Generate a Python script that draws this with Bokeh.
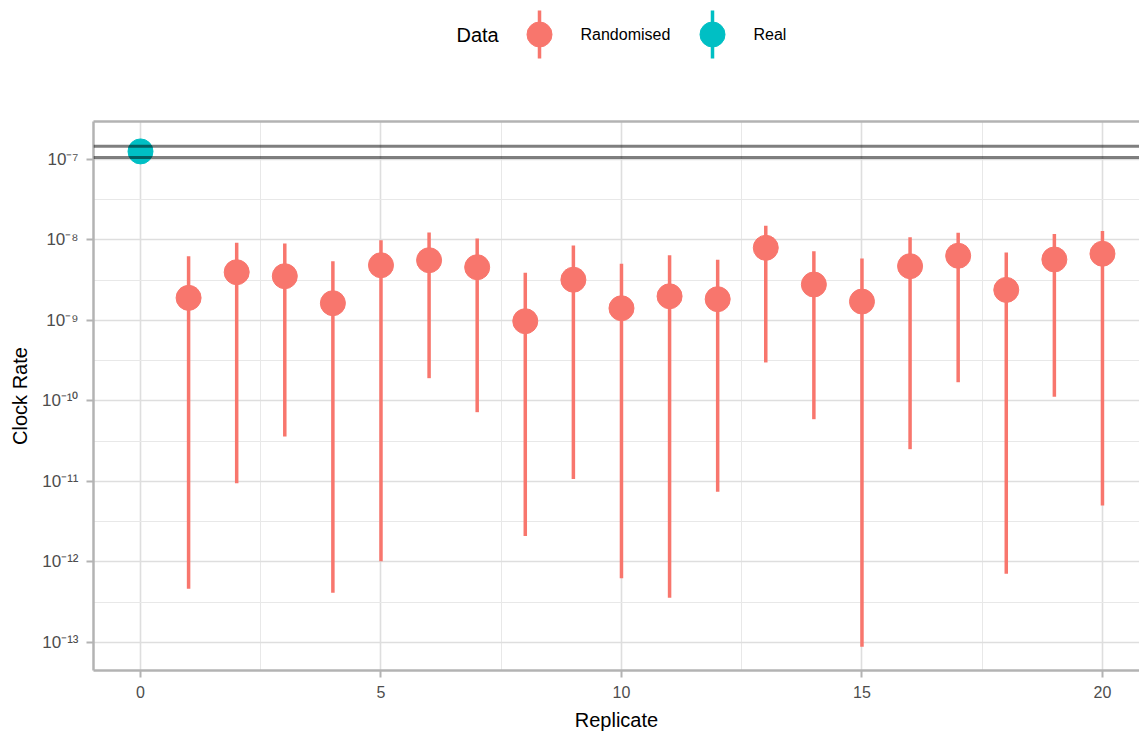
from bokeh.plotting import figure
from bokeh.models import Range1d, FixedTicker, CustomJSTickFormatter, Span, LinearAxis
from bokeh.layouts import column
from bokeh.embed import file_html
from bokeh.resources import INLINE
from bokeh.core.properties import value

# ---------------- data ----------------
replicate = [1, 2, 3, 4, 5, 6, 7, 8, 9, 10, 11, 12, 13, 14, 15, 16, 17, 18, 19, 20]
rand_rate = [1.91e-9, 3.98e-9, 3.55e-9, 1.64e-9, 4.86e-9, 5.61e-9, 4.59e-9, 9.8e-10, 3.21e-9, 1.42e-9,
             2.00e-9, 1.84e-9, 8.0e-9, 2.80e-9, 1.72e-9, 4.73e-9, 6.37e-9, 2.40e-9, 5.73e-9, 6.75e-9]
rand_upper = [6.29e-9, 9.23e-9, 9.05e-9, 5.46e-9, 9.95e-9, 1.24e-8, 1.04e-8, 3.92e-9, 8.55e-9, 5.06e-9,
              6.47e-9, 5.68e-9, 1.50e-8, 7.26e-9, 5.89e-9, 1.08e-8, 1.23e-8, 7.00e-9, 1.19e-8, 1.29e-8]
rand_lower = [4.65e-13, 9.5e-12, 3.62e-11, 4.14e-13, 1.02e-12, 1.92e-10, 7.26e-11, 2.11e-12, 1.07e-11, 6.29e-13,
              3.59e-13, 7.45e-12, 3.01e-10, 5.94e-11, 8.85e-14, 2.52e-11, 1.71e-10, 7.13e-13, 1.13e-10, 5.04e-12]
real_replicate = [0]
real_rate = [1.26e-7]
real_interval = [1.06e-7, 1.46e-7]
x_ticks = [0, 5, 10, 15, 20]
x_minor = [2.5, 7.5, 12.5, 17.5]
y_ticks = [1e-13, 1e-12, 1e-11, 1e-10, 1e-9, 1e-8, 1e-7]
y_minor = [10 ** -12.5, 10 ** -11.5, 10 ** -10.5, 10 ** -9.5, 10 ** -8.5, 10 ** -7.5, 10 ** -6.5]
legend_title = "Data"
legend_labels = ["Randomised", "Real"]
colors = ["#F8766D", "#00BFC4"]

FONT = "Liberation Sans"
W = 1139
LEFT = 93
LEG_H = 70
BORDER = "#B3B3B3"

# ---------------- main plot ----------------
p = figure(width=W, height=734 - LEG_H,
           x_range=Range1d(-0.977, 20.77),
           y_range=Range1d(10 ** -13.348, 10 ** -6.528),
           y_axis_type="log",
           output_backend="svg", toolbar_location=None,
           min_border_left=LEFT, min_border_right=0, min_border_top=121 - LEG_H, min_border_bottom=64,
           background_fill_color="white", border_fill_color="white")

xaxis = p.below[0]
yaxis = p.left[0]
x_ticker = FixedTicker(ticks=x_ticks, minor_ticks=x_minor)
y_ticker = FixedTicker(ticks=y_ticks, minor_ticks=y_minor)
xaxis.ticker = x_ticker
yaxis.ticker = y_ticker
p.xgrid.ticker = x_ticker
p.ygrid.ticker = y_ticker

# panel border on left, bottom and top only (the panel continues past the right edge)
p.outline_line_color = None
top_axis = LinearAxis(ticker=FixedTicker(ticks=[]), axis_line_color=BORDER, axis_line_width=2.5,
                      major_tick_out=0, major_tick_in=0, minor_tick_out=0, minor_tick_in=0,
                      major_label_text_alpha=0)
p.add_layout(top_axis, "above")

yaxis.formatter = CustomJSTickFormatter(code="""
const m = {"-": "\u207b", "0": "\u2070", "1": "\u00b9", "2": "\u00b2", "3": "\u00b3",
           "4": "\u2074", "5": "\u2075", "6": "\u2076", "7": "\u2077", "8": "\u2078", "9": "\u2079"};
const e = String(Math.round(Math.log10(tick)));
let s = "10";
for (const c of e) { s += m[c]; }
return s;
""")

for ax in (xaxis, yaxis):
    ax.axis_line_color = BORDER
    ax.axis_line_width = 2.5
    ax.major_tick_line_color = BORDER
    ax.major_tick_line_width = 2
    ax.major_tick_out = 7
    ax.major_tick_in = 0
    ax.minor_tick_out = 0
    ax.minor_tick_in = 0
    ax.major_label_text_font = FONT
    ax.major_label_text_font_size = "16px"
    ax.major_label_text_color = "#4D4D4D"
    ax.major_label_standoff = 8
    ax.axis_label_text_font = FONT
    ax.axis_label_text_font_size = "20px"
    ax.axis_label_text_font_style = "normal"
    ax.axis_label_text_color = "black"
    ax.axis_label_standoff = 8

yaxis.major_label_text_font_size = "17px"
xaxis.axis_label = "Replicate"
yaxis.axis_label = "Clock Rate"

for g in (p.xgrid, p.ygrid):
    g.grid_line_color = "#DEDEDE"
    g.grid_line_width = 1.6
    g.minor_grid_line_color = "#E8E8E8"
    g.minor_grid_line_width = 1

p.segment(x0=replicate, y0=rand_lower, x1=replicate, y1=rand_upper,
          line_color=colors[0], line_width=3.5)
p.scatter(x=replicate, y=rand_rate, size=25, fill_color=colors[0], line_color=colors[0])
p.scatter(x=real_replicate, y=real_rate, size=25, fill_color=colors[1], line_color=colors[1])

for v in real_interval:
    p.add_layout(Span(location=v, dimension="width", line_color="black",
                      line_alpha=0.5, line_width=3))

# ---------------- legend strip (pixel coordinates) ----------------
lg = figure(width=W, height=LEG_H, x_range=Range1d(LEFT, W), y_range=Range1d(LEG_H, 0),
            output_backend="svg", toolbar_location=None,
            min_border_left=LEFT, min_border_right=0, min_border_top=0, min_border_bottom=0,
            x_axis_location=None, y_axis_location=None,
            background_fill_color="white", border_fill_color="white")
lg.outline_line_color = None
lg.grid.visible = False

key_x = [539, 712]
lg.segment(x0=key_x, y0=[10, 10], x1=key_x, y1=[58, 58], line_color=colors, line_width=3.5)
lg.scatter(x=key_x, y=[34, 34], size=25, fill_color=colors, line_color=colors)
lg.text(x=[580, 753], y=[34, 34], text=legend_labels, text_font=value(FONT),
        text_font_size="16px", text_baseline="middle", text_align="left", text_color="black")
lg.text(x=[456], y=[34], text=[legend_title], text_font=value(FONT),
        text_font_size="20px", text_baseline="middle", text_align="left", text_color="black")

layout = column(lg, p, spacing=0)
open("out.html", "w").write(file_html(layout, INLINE))
